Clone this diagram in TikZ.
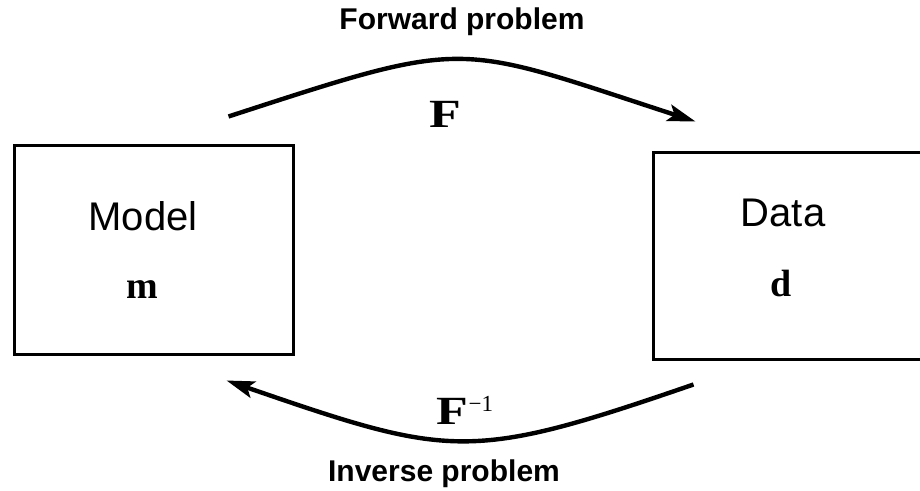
\documentclass[tikz,border=0pt]{standalone}
\usepackage{fontspec}
\setmainfont{Liberation Sans}
\newfontfamily\symbfont{Liberation Serif}
\usetikzlibrary{arrows.meta}

\begin{document}
\begin{tikzpicture}[x=0.5pt, y=0.5pt,
    box/.style={draw, line width=1.5pt, inner sep=0pt},
    arc/.style={line width=2.2pt, -{Stealth[length=14pt, width=8.5pt, inset=3pt]}},
    caption/.style={font=\fontsize{15}{18}\selectfont\bfseries},
    boxtext/.style={font=\fontsize{20}{24}\selectfont},
    sym/.style={font=\fontsize{19}{22}\selectfont\symbfont\bfseries}]
    \clip (0,0) rectangle (920,491);
    % boxes
    \node[box, minimum width=139.5pt, minimum height=104.5pt] (model) at (153.5,240.5) {};
    \node[box, minimum width=141pt, minimum height=103.5pt] (data) at (794,234.5) {};
    \node[boxtext] (modeltxt) at ([shift={(-10.5,34.5)}]model.center) {Model};
    \node[sym] (modelsym) at ([shift={(-11,-39)}]model.center) {m};
    \node[boxtext] (datatxt) at ([shift={(-11,43.5)}]data.center) {Data};
    \node[sym] (datasym) at ([shift={(-13,-27.5)}]data.center) {d};
    % forward and inverse arcs
    \coordinate (fwdstart) at ([shift={(-66,28)}]model.north east);
    \coordinate (fwdend) at ([shift={(44,30)}]data.north west);
    \coordinate (invstart) at ([shift={(42,-23)}]data.south west);
    \coordinate (invend) at ([shift={(-68,-24)}]model.south east);
    \draw[arc] (fwdstart) to[out=18, in=162, looseness=1.4] (fwdend);
    \draw[arc] (invstart) to[out=-161, in=-19, looseness=1.3] (invend);
    \node[sym, font=\fontsize{20}{22}\selectfont\symbfont\bfseries] (fwdsym) at (445,377) {\scalebox{1.3}[1]{F}};
    \node[sym, font=\fontsize{20}{22}\selectfont\symbfont\bfseries] (invsym) at (465,81) {\scalebox{1.3}[1]{F}\raisebox{6.5pt}{\fontsize{11.5}{12}\selectfont\mdseries −1}};
    \node[caption] (fwdlabel) at (462,469) {Forward problem};
    \node[caption] (invlabel) at (444,17) {Inverse problem};
\end{tikzpicture}
\end{document}
